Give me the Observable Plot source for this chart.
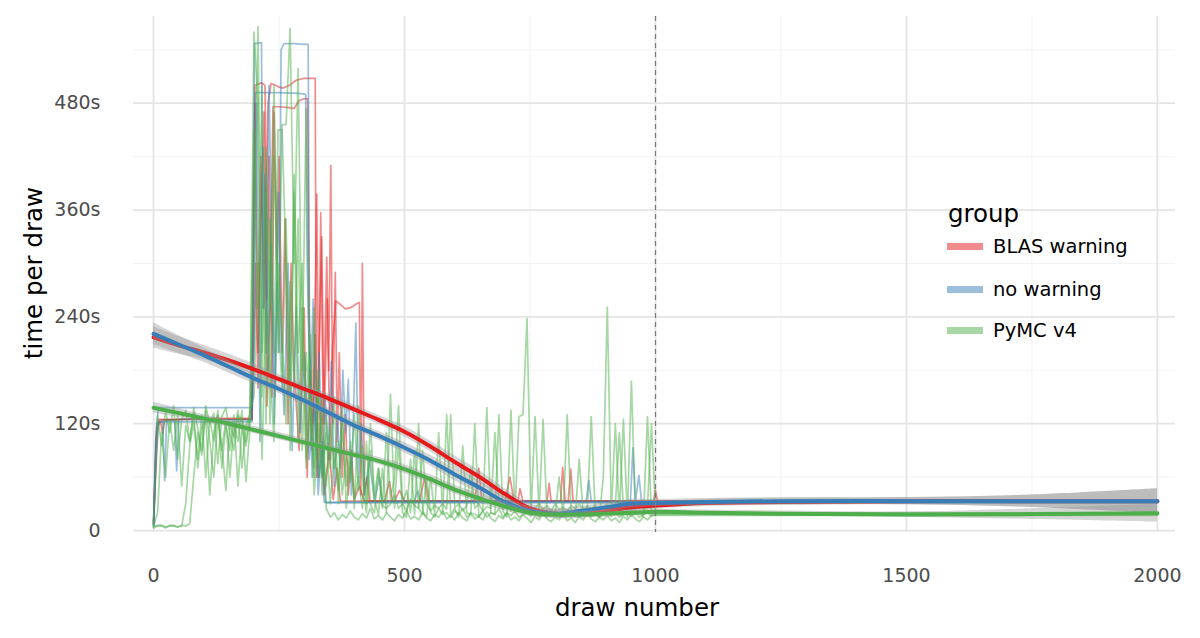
<!DOCTYPE html>
<html>
<head>
<meta charset="utf-8">
<script src="https://cdn.jsdelivr.net/npm/d3@7"></script>
<script src="https://cdn.jsdelivr.net/npm/@observablehq/plot@0.6"></script>
<style>
  body { margin: 0; background: white; font-family: "DejaVu Sans", sans-serif; }
  #chart { position: relative; width: 1200px; height: 638px; }
  .txt { position: absolute; white-space: nowrap; color: #000; }
  .key { position: absolute; width: 36px; height: 7px; opacity: 0.5; }
</style>
</head>
<body>
<div id="chart"></div>
<script>
const groups = ["BLAS warning", "no warning", "PyMC v4"]
const colors = ["#e41a1c", "#377eb8", "#4daf4a"]

// chains with step-like traces, read as [draw, seconds]
const blas1 = [[0,8],[4,60],[8,118],[14,122],[18,109],[22,124],[60,125],[120,126],[196,126],[202,500],[215,503],[222,500],[226,260],[230,420],[236,150],[240,470],[246,300],[250,420],[256,200],[262,350],[268,120],[274,300],[280,180],[290,90],[300,250],[306,60],[312,180],[318,120],[325,378],[329,150],[333,357],[338,120],[345,307],[349,180],[353,410],[357,120],[362,290],[366,100],[370,200],[376,60],[382,130],[388,40],[394,90],[400,35],[410,50],[420,33],[640,33],[648,70],[654,33],[726,33],[730,47],[736,33],[1000,33],[2000,33]]
const blas2 = [[0,10],[6,115],[12,124],[100,125],[196,125],[203,300],[208,160],[214,420],[220,250],[228,480],[234,502],[240,501],[250,498],[258,497],[270,500],[285,506],[300,508],[322,508],[325,60],[330,200],[335,330],[340,120],[346,260],[352,80],[356,200],[363,258],[372,254],[382,249],[395,251],[405,255],[410,256],[413,40],[416,300],[420,40],[425,60],[430,33],[480,33],[490,45],[500,33],[700,33],[710,60],[718,33],[784,33],[788,53],[792,33],[811,33],[815,71],[820,33],[996,33],[1000,45],[1004,33],[2000,33]]
const blas3 = [[0,8],[5,100],[10,125],[196,125],[202,480],[208,200],[214,350],[220,470],[226,140],[232,250],[238,476],[250,476],[270,475],[280,474],[290,483],[300,485],[307,485],[310,240],[316,90],[322,220],[328,60],[334,150],[340,40],[350,90],[358,35],[366,70],[372,33],[460,33],[470,55],[476,33],[530,33],[540,60],[548,33],[826,33],[831,69],[836,33],[1000,33],[2000,33]]

const noWarn1 = [[0,5],[6,120],[10,138],[196,138],[201,547],[215,548],[218,250],[222,400],[228,180],[234,320],[240,120],[246,280],[250,200],[254,540],[260,547],[280,547],[300,546],[308,546],[311,180],[316,60],[322,140],[328,40],[334,90],[340,32],[1000,32],[2000,32]]
const noWarn2 = [[0,5],[5,80],[10,120],[18,124],[22,56],[26,124],[42,124],[46,67],[50,125],[196,124],[203,492],[210,492],[250,492],[290,491],[303,490],[306,300],[312,150],[318,260],[324,90],[330,200],[336,60],[342,150],[348,80],[354,190],[360,50],[366,130],[372,70],[377,180],[383,110],[388,170],[394,40],[403,233],[408,60],[414,120],[420,40],[430,80],[440,33],[450,60],[456,33],[520,33],[526,45],[532,33],[862,33],[867,56],[872,33],[950,33],[955,93],[960,33],[967,62],[972,33],[1000,33],[2000,33]]
const noWarn3 = [[0,6],[4,100],[8,122],[196,122],[202,250],[206,480],[212,100],[218,430],[224,200],[230,500],[236,300],[242,150],[248,380],[254,220],[260,130],[268,300],[276,90],[284,250],[292,110],[300,200],[310,80],[320,140],[330,60],[336,100],[343,31],[1000,31],[2000,31]]

// noisy PyMC chains, read every 8 draws from 0 to 1000
const pymcStep = 8
const pymc1 = [3,5,6,4,5,6,4,5,30,95,120,80,130,60,125,100,135,70,120,90,130,50,115,95,125,
  560,480,150,430,250,500,200,456,456,564,300,519,180,474,100,250,60,150,25,15,20,12,18,14,22,
  15,12,19,14,25,13,17,12,20,15,11,18,14,22,13,16,12,20,14,11,18,15,22,13,17,12,20,14,11,19,
  13,16,12,21,14,10,17,13,20,12,15,11,18,14,9,16,12,19,13,10,15,12,18,11,14,9,16,12,19,13,
  10,15,12,17,11,14,9,16,12,18,13,10,15,12,17,17]
const pymc2 = [4,6,5,3,6,5,4,6,5,8,60,110,85,135,100,60,128,95,45,120,105,135,70,118,130,
  300,566,200,380,120,420,250,160,350,90,400,200,300,80,220,60,180,40,130,70,150,30,120,50,100,
  25,140,60,20,90,35,18,70,20,153,25,100,20,15,80,18,120,22,15,60,18,110,20,130,18,25,15,95,
  20,18,120,15,22,138,20,18,130,22,15,135,20,128,130,238,18,128,20,125,15,22,18,60,15,130,20,
  16,80,18,22,128,18,15,60,251,20,120,18,125,15,168,18,22,15,128,18,19]
const pymc3 = [5,20,110,60,125,90,130,50,118,100,132,70,115,125,40,110,130,90,125,60,120,100,135,55,115,
  450,250,500,120,350,200,450,450,300,150,380,100,250,70,150,40,120,60,110,30,90,45,140,25,80,
  35,60,25,100,30,20,70,28,25,30,40,25,30,22,35,28,25,90,30,22,28,25,30,24,130,26,30,22,28,70,
  25,30,22,27,25,110,28,24,30,22,26,30,24,28,22,26,30,24,28,22,30,24,26,22,28,25,30,23,27,24,
  28,22,26,30,24,28,110,25,30,22,26,28,24,26,120,20]
const pymc4 = [8,130,95,135,110,140,80,125,135,100,138,115,90,140,120,132,75,128,138,110,90,130,125,100,135,
  150,300,80,250,180,100,300,220,120,280,160,350,90,200,130,70,160,90,50,120,70,100,40,85,55,
  130,45,95,30,120,40,70,25,110,35,60,140,30,45,20,90,25,18,60,20,15,25,18,20,15,22,18,25,15,
  20,18,16,22,15,20,18,25,15,20,17,22,15,18,20,16,22,15,18,20,16,22,15,18,20,16,22,15,18,20,
  16,22,15,18,20,16,22,15,18,20,16,22,15,18,20,16,18]
const pymcTail = [17, 19, 20, 18]   // flat level of each chain after draw 1000

// smoothed trend per group
const smoothDraws = [0,50,100,150,200,250,300,350,400,450,500,550,600,650,700,750,800,850,900,950,1000,
  1100,1250,1500,1750,2000]
const blasSmooth = [217,208,200,191,181,170,159,148,136,124,111,95,77,60,41,25,19,19,22,26,28,
  31,32,33,33,33]
const noWarnSmooth = [221,209,197,184,171,159,146,132,118,106,93,79,63,48,32,22,19,22,26,30,31,
  32,33,33,33,33]
const pymcSmooth = [138,132,126,120,113,106,99,92,85,78,69,58,46,36,27,20,18,18,19,20,21,
  20,19,18,18.5,19.5]
const blasBand = [12,10,8,7,6,5,5,5,5,5,6,6,7,7,6,5,5,5,5,5,4,4,4,4,7,14]
const noWarnBand = [12,10,8,7,6,5,5,5,5,5,6,6,7,7,6,5,5,5,5,5,4,4,4,4,7,14]
const pymcBand = [6,5,4,4,4,4,4,4,4,4,5,5,5,5,5,4,4,4,4,4,3,3,3,3,6,10]

const yTicks = [0, 120, 240, 360, 480]
const yMinor = [60, 180, 300, 420, 540]
const xTicks = [0, 500, 1000, 1500, 2000]
const xMinor = [250, 750, 1250, 1750]

// long table of raw traces
let rows = []
let pairChains = [[groups[0], blas1], [groups[0], blas2], [groups[0], blas3],
                  [groups[1], noWarn1], [groups[1], noWarn2], [groups[1], noWarn3]]
pairChains.forEach(([g, pts], i) => {
  pts.forEach(([d, t]) => rows.push({group: g, chain: "c" + i, draw: d, time: t}))
})
;[pymc1, pymc2, pymc3, pymc4].forEach((vals, k) => {
  vals.forEach((t, j) => rows.push({group: groups[2], chain: "g" + k, draw: j * pymcStep, time: t}))
  rows.push({group: groups[2], chain: "g" + k, draw: 1008, time: pymcTail[k]})
  rows.push({group: groups[2], chain: "g" + k, draw: 2000, time: pymcTail[k]})
})

let smooth = []
;[[blasSmooth, blasBand], [noWarnSmooth, noWarnBand], [pymcSmooth, pymcBand]].forEach(([s, b], gi) => {
  smoothDraws.forEach((d, j) => smooth.push({group: groups[gi], draw: d, fit: s[j], lo: s[j] - b[j], hi: s[j] + b[j]}))
})

let marks = [
  Plot.gridY(yMinor, {stroke: "#f2f2f2", strokeOpacity: 1, strokeWidth: 1}),
  Plot.gridX(xMinor, {stroke: "#f2f2f2", strokeOpacity: 1, strokeWidth: 1}),
  Plot.gridY(yTicks, {stroke: "#e4e4e4", strokeOpacity: 1, strokeWidth: 1.8}),
  Plot.gridX(xTicks, {stroke: "#e4e4e4", strokeOpacity: 1, strokeWidth: 1.8}),
  Plot.axisY(yTicks, {tickSize: 0, tickPadding: 33, fontSize: 19, color: "#4d4d4d", label: null,
    tickFormat: d => d === 0 ? "0" : d + "s"}),
  Plot.axisX(xTicks, {tickSize: 0, tickPadding: 36, fontSize: 19, color: "#4d4d4d", label: null,
    tickFormat: d => String(d)}),
  Plot.line(rows, {x: "draw", y: "time", z: "chain", stroke: "group", strokeOpacity: 0.5, strokeWidth: 1.7})
]
groups.forEach(g => {
  let part = smooth.filter(d => d.group === g)
  marks.push(Plot.areaY(part, {x: "draw", y1: "lo", y2: "hi", fill: "#999999", fillOpacity: 0.4, curve: "catmull-rom"}))
  marks.push(Plot.line(part, {x: "draw", y: "fit", stroke: "group", strokeWidth: 4, curve: "catmull-rom"}))
})
marks.push(Plot.ruleX([1000], {stroke: "#7a7a7a", strokeWidth: 1.2, strokeDasharray: "5,4"}))

const chart = Plot.plot({
  width: 1200,
  height: 638,
  marginTop: 16,
  marginBottom: 106,
  marginLeft: 133,
  marginRight: 25,
  style: {fontFamily: "DejaVu Sans", background: "white"},
  x: {domain: [-40, 2036]},
  y: {domain: [-2.2, 577.4]},
  color: {domain: groups, range: colors},
  marks
})

const box = d3.select("#chart")
box.append(() => chart)

// axis titles
box.append("div").attr("class", "txt").text("draw number")
  .style("font-size", "24.5px").style("left", "637px").style("top", "607px")
  .style("transform", "translate(-50%, -50%)")
box.append("div").attr("class", "txt").text("time per draw")
  .style("font-size", "24.5px").style("left", "33px").style("top", "273px")
  .style("transform", "translate(-50%, -50%) rotate(-90deg)")

// legend
box.append("div").attr("class", "txt").text("group")
  .style("font-size", "24.5px").style("left", "948px").style("top", "213px")
  .style("transform", "translateY(-50%)")
const keyY = [246, 289, 330]
groups.forEach((g, i) => {
  box.append("div").attr("class", "key").style("background", colors[i])
    .style("left", "947px").style("top", (keyY[i] - 3.5) + "px")
  box.append("div").attr("class", "txt").text(g)
    .style("font-size", "19.5px").style("left", "993px").style("top", keyY[i] + "px")
    .style("transform", "translateY(-50%)")
})
</script>
</body>
</html>
